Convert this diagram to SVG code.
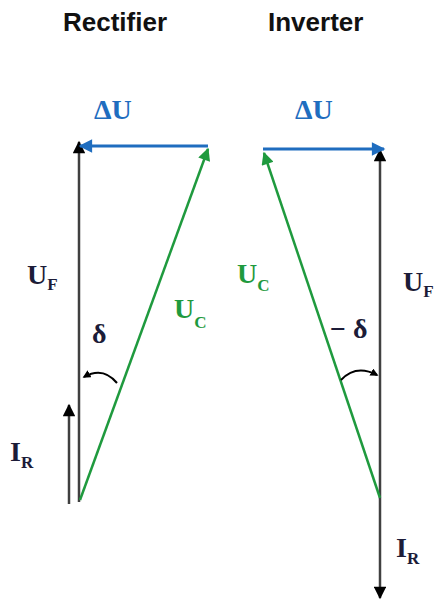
<svg xmlns="http://www.w3.org/2000/svg" width="443" height="603" viewBox="0 0 443 603">
<defs>
<marker id="ab" viewBox="0 0 10 10" refX="9" refY="5" markerWidth="5.5" markerHeight="5" orient="auto" markerUnits="strokeWidth"><path d="M0,0 L10,5 L0,10 z" fill="#000"/></marker>
<marker id="ablue" viewBox="0 0 10 10" refX="9" refY="5" markerWidth="5" markerHeight="4.5" orient="auto" markerUnits="strokeWidth"><path d="M0,0 L10,5 L0,10 z" fill="#1f6dbf"/></marker>
<marker id="agreen" viewBox="0 0 10 10" refX="9" refY="5" markerWidth="6" markerHeight="5" orient="auto" markerUnits="strokeWidth"><path d="M0,0 L10,5 L0,10 z" fill="#1f9a3e"/></marker>
<marker id="asm" viewBox="0 0 10 10" refX="8" refY="5" markerWidth="4" markerHeight="4" orient="auto" markerUnits="strokeWidth"><path d="M0,0 L10,5 L0,10 z" fill="#000"/></marker>
</defs>
<style>
.title{font-family:"Liberation Sans",Arial,sans-serif;font-weight:bold;font-size:26px;fill:#111;}
.lbl{font-family:"Liberation Serif","Times New Roman",serif;font-weight:bold;font-size:28px;}
.sub{font-size:17px;}
.dark{fill:#1c1c38;}
.blue{fill:#1f6dbf;}
.green{fill:#1f9a3e;}
.vk{stroke:#404040;stroke-width:2.5;fill:none;marker-end:url(#ab);}
.vb{stroke:#1f6dbf;stroke-width:3;fill:none;marker-end:url(#ablue);}
.vg{stroke:#1f9a3e;stroke-width:2.5;fill:none;marker-end:url(#agreen);}
.arc{stroke:#000;stroke-width:2;fill:none;marker-end:url(#asm);}
</style>
<g id="titles">
<text class="title" x="63" y="31">Rectifier</text>
<text class="title" x="268" y="31">Inverter</text>
</g>
<g id="connectors">
<line class="vk" x1="79" y1="502" x2="79" y2="142"/>
<line class="vb" x1="208" y1="146" x2="80" y2="146"/>
<line class="vg" x1="80" y1="500" x2="208" y2="149"/>
<line class="vk" x1="69" y1="504" x2="69" y2="405"/>
<path class="arc" d="M117,383 Q103,366 84,377"/>
<line class="vk" x1="380" y1="498" x2="380" y2="150"/>
<line class="vb" x1="263" y1="149" x2="384" y2="149"/>
<line class="vg" x1="380" y1="498" x2="264" y2="153"/>
<line class="vk" x1="380" y1="498" x2="380" y2="598"/>
<path class="arc" d="M341,380 Q356,364 377,375"/>
</g>
<g id="labels-rectifier">
<text class="lbl blue" x="94" y="119">ΔU</text>
<text class="lbl dark" x="27" y="284" font-size="30">U<tspan class="sub" dy="6">F</tspan></text>
<text class="lbl green" x="174" y="318">U<tspan class="sub" dy="10">C</tspan></text>
<text class="lbl dark" x="92" y="343" font-size="26">δ</text>
<text class="lbl dark" x="10" y="461" font-size="25">I<tspan class="sub" dy="7">R</tspan></text>
</g>
<g id="labels-inverter">
<text class="lbl blue" x="295" y="119">ΔU</text>
<text class="lbl green" x="237" y="283">U<tspan class="sub" dy="8">C</tspan></text>
<text class="lbl dark" x="403" y="291" font-size="30">U<tspan class="sub" dy="6">F</tspan></text>
<text class="lbl dark" x="330" y="338" font-size="26">− δ</text>
<text class="lbl dark" x="396" y="557" font-size="25">I<tspan class="sub" dy="7">R</tspan></text>
</g>
</svg>
